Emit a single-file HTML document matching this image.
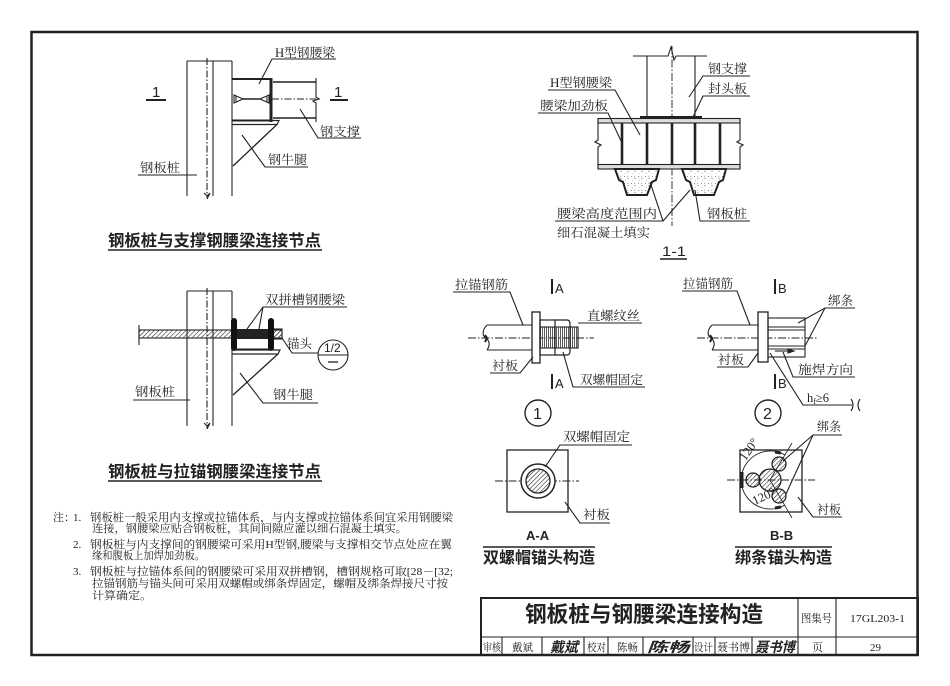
<!DOCTYPE html>
<html><head><meta charset="utf-8">
<style>
html,body{margin:0;padding:0;background:#fff;}
svg{display:block;}
.lb{font-family:"Liberation Serif","Noto Serif CJK SC",serif;font-size:12.5px;fill:#222;}
.tt{font-family:"Liberation Sans","Noto Sans CJK SC",sans-serif;font-weight:bold;fill:#222;}
.nt{font-family:"Liberation Serif","Noto Serif CJK SC",serif;font-size:11px;fill:#222;}
.sn{font-family:"Liberation Sans","Noto Sans CJK SC",sans-serif;fill:#222;}
</style></head>
<body>
<svg width="950" height="686" viewBox="0 0 950 686" xmlns="http://www.w3.org/2000/svg">
<defs>
<pattern id="h" patternUnits="userSpaceOnUse" width="3.2" height="3.2" patternTransform="rotate(45)"><line x1="0" y1="0" x2="0" y2="3.2" stroke="#222" stroke-width="1.1"/></pattern>
<pattern id="v" patternUnits="userSpaceOnUse" width="2" height="4"><line x1="0.5" y1="0" x2="0.5" y2="4" stroke="#333" stroke-width="0.8"/></pattern>
<pattern id="c" patternUnits="userSpaceOnUse" width="7" height="7"><circle cx="1.5" cy="1.5" r="0.5" fill="#666"/><circle cx="5" cy="3.5" r="0.6" fill="#777"/><circle cx="2.5" cy="5.5" r="0.4" fill="#888"/><path d="M4.5 0.5 l1 1.2 h-1.6z" fill="#999"/></pattern>
</defs>
<rect width="950" height="686" fill="#fff"/>
<!-- border -->
<rect x="31.5" y="32" width="886" height="623" fill="none" stroke="#222" stroke-width="2.5"/>

<g stroke="#222" fill="none" stroke-width="1.1">
<!-- ===== Drawing 1 ===== -->
<line x1="187" y1="61" x2="187" y2="196"/>
<line x1="213" y1="61" x2="213" y2="196"/>
<line x1="232" y1="61" x2="232" y2="196"/>
<line x1="187" y1="61" x2="232" y2="61"/>
<line x1="207" y1="58" x2="207" y2="198" stroke-dasharray="7 2 1.5 2"/>
<path d="M204 193 L207 196 L210 193 L207 199"/>
<!-- H box -->
<line x1="232" y1="79" x2="272" y2="79" stroke-width="2"/>
<line x1="232" y1="120.5" x2="272" y2="120.5" stroke-width="2"/>
<line x1="271" y1="78" x2="271" y2="122" stroke-width="3"/>
<path d="M234 95 L243 99 L234 103 Z M236 96 L236 102"/>
<path d="M269 95 L260 99 L269 103 Z M267 96 L267 102"/>
<line x1="243" y1="99" x2="260" y2="99" stroke-width="1.5"/>
<line x1="272" y1="99" x2="322" y2="99" stroke-dasharray="7 2 1.5 2"/>
<!-- brace -->
<line x1="273" y1="82" x2="316" y2="82" stroke-width="1.4"/>
<line x1="273" y1="118" x2="316" y2="118" stroke-width="1.4"/>
<path d="M316 78 L316 97 L319 99 L313 101 L316 103 L316 122"/>
<!-- bracket -->
<path d="M232 120.5 L279 120.5 L277 124.5 L232 124.5" stroke-width="1.2"/>
<line x1="277" y1="124.5" x2="233" y2="166" stroke-width="1.3"/>
<!-- section marks -->
<line x1="146" y1="100" x2="166" y2="100" stroke-width="2"/>
<line x1="330" y1="100" x2="348" y2="100" stroke-width="2"/>
<!-- leaders -->
<polyline points="259,84 272,59 336,59"/>
<polyline points="300,109 318,138 361,138"/>
<polyline points="242,135 265,167 308,167"/>
<line x1="138" y1="175" x2="197" y2="175"/>
<line x1="108" y1="250" x2="322" y2="250" stroke-width="1.6"/>

<!-- ===== Drawing 2 ===== -->
<line x1="187" y1="291" x2="187" y2="426"/>
<line x1="213" y1="291" x2="213" y2="426"/>
<line x1="232" y1="291" x2="232" y2="426"/>
<line x1="187" y1="291" x2="232" y2="291"/>
<line x1="207" y1="288" x2="207" y2="428" stroke-dasharray="7 2 1.5 2"/>
<path d="M204 423 L207 426 L210 423 L207 429"/>
<rect x="139" y="330" width="143" height="8" fill="url(#h)"/>
<rect x="236" y="329" width="34" height="10" fill="#222" stroke="none"/>
<rect x="273" y="329" width="9" height="10" fill="url(#h)"/>
<line x1="139" y1="325" x2="139" y2="345"/>
<rect x="231" y="318" width="6" height="33" rx="3" fill="#111" stroke="none"/>
<rect x="268" y="318" width="6" height="33" rx="3" fill="#111" stroke="none"/>
<line x1="236" y1="349" x2="270" y2="349"/>
<path d="M232 350 L280 350 L278 354 L232 354" stroke-width="1.2"/>
<line x1="278" y1="354" x2="233" y2="395" stroke-width="1.3"/>
<!-- leaders -->
<polyline points="247,329 263,307 347,307"/>
<line x1="263" y1="307" x2="259" y2="329"/>
<polyline points="282,338 292,353 318,353"/>
<circle cx="333" cy="355" r="15"/>
<line x1="318" y1="355" x2="348" y2="355"/>
<line x1="328" y1="362" x2="338" y2="362" stroke-width="1.3"/>
<line x1="133" y1="400" x2="190" y2="400"/>
<polyline points="240,373 263,403 318,403"/>
<line x1="108" y1="481" x2="322" y2="481" stroke-width="1.6"/>

<!-- ===== 1-1 section ===== -->
<line x1="647" y1="56" x2="647" y2="118"/>
<line x1="695" y1="56" x2="695" y2="118"/>
<path d="M633 56 L668 56 L671 47 L674 60 L676 56 L707 56"/>
<line x1="672" y1="46" x2="672" y2="226" stroke-dasharray="8 2 1.5 2" stroke-width="0.9"/>
<line x1="640" y1="117.5" x2="702" y2="117.5" stroke-width="3"/>
<rect x="598" y="118.5" width="142" height="4.5" fill="#ddd"/>
<rect x="598" y="164.5" width="142" height="4.5" fill="#ddd"/>
<path d="M598 118 L598 140 L595 142 L601 145 L598 147 L598 169"/>
<path d="M740 118 L740 140 L737 142 L743 145 L740 147 L740 169"/>
<g stroke-width="2.6">
<line x1="622" y1="123" x2="622" y2="164"/>
<line x1="647" y1="123" x2="647" y2="164"/>
<line x1="672" y1="123" x2="672" y2="164"/>
<line x1="695" y1="123" x2="695" y2="164"/>
<line x1="720" y1="123" x2="720" y2="164"/>
</g>
<path d="M615 169 L619 180 L623 182 L627 195 L647 195 L652 182 L656 180 L659 169 Z" fill="url(#c)" stroke-width="2"/>
<path d="M682 169 L686 180 L690 182 L694 195 L714 195 L719 182 L723 180 L726 169 Z" fill="url(#c)" stroke-width="2"/>
<polyline points="689,97 703,76 750,76"/>
<polyline points="693,117 703,96 750,96"/>
<polyline points="640,135 615,90 548,90"/>
<polyline points="622,143 608,113 538,113"/>
<polyline points="650,182 663,221 555,221"/>
<line x1="663" y1="221" x2="690" y2="190"/>
<polyline points="695,190 700,221 750,221"/>
<line x1="660" y1="259" x2="687" y2="259" stroke-width="1.6"/>

<!-- ===== Detail 1 ===== -->
<line x1="487" y1="325" x2="532" y2="325"/>
<line x1="487" y1="350" x2="532" y2="350"/>
<path d="M487 325 C482 330 482 336 486 338 C490 341 490 346 487 350"/>
<path d="M485 335 L487 338 L485 342" stroke-width="2"/>
<line x1="468" y1="338" x2="594" y2="338" stroke-dasharray="8 2 1.5 2" stroke-width="0.9"/>
<rect x="532" y="312" width="8" height="51" fill="#fff" stroke-width="1.3"/>
<rect x="540" y="327" width="38" height="21" fill="url(#v)"/>
<rect x="540" y="320" width="15" height="35" stroke-width="1.2"/>
<path d="M555 320 L567 320 Q570 320 570 324 L570 351 Q570 355 567 355 L555 355" stroke-width="1.2"/>
<line x1="578" y1="327" x2="578" y2="348"/>
<polyline points="523,325 510,292 453,292"/>
<line x1="578" y1="323" x2="642" y2="323"/>
<polyline points="533,357 520,373 490,373"/>
<polyline points="563,352 573,387 645,387"/>
<line x1="552" y1="279" x2="552" y2="294" stroke-width="2"/>
<line x1="552" y1="374" x2="552" y2="389" stroke-width="2"/>
<circle cx="538" cy="413" r="13" stroke-width="1.4"/>

<!-- ===== Detail 2 ===== -->
<line x1="712" y1="325" x2="758" y2="325"/>
<line x1="712" y1="350" x2="758" y2="350"/>
<path d="M712 325 C707 330 707 336 711 338 C715 341 715 346 712 350"/>
<path d="M710 335 L712 338 L710 342" stroke-width="2"/>
<line x1="697" y1="338" x2="817" y2="338" stroke-dasharray="8 2 1.5 2" stroke-width="0.9"/>
<rect x="758" y="312" width="10" height="50" fill="#fff" stroke-width="1.3"/>
<rect x="768" y="318" width="37" height="39"/>
<line x1="768" y1="327" x2="805" y2="327"/>
<line x1="768" y1="330" x2="805" y2="330"/>
<line x1="768" y1="346" x2="805" y2="346"/>
<line x1="768" y1="349" x2="805" y2="349"/>
<line x1="775" y1="351" x2="789" y2="351"/>
<path d="M788 349 L794 351 L788 353 Z" fill="#222"/>
<polyline points="750,325 737,291 682,291"/>
<polyline points="798,323 825,308 855,308"/>
<line x1="825" y1="308" x2="805" y2="346"/>
<polyline points="758,353 748,367 717,367"/>
<polyline points="783,352 793,377 855,377"/>
<polyline points="770,353 803,405 852,405"/>
<path d="M851 399 Q855 405 851 411 M860 399 Q856 405 860 411"/>
<line x1="775" y1="279" x2="775" y2="294" stroke-width="2"/>
<line x1="775" y1="374" x2="775" y2="389" stroke-width="2"/>
<circle cx="768" cy="413" r="13" stroke-width="1.4"/>

<!-- ===== A-A ===== -->
<rect x="507" y="450" width="61" height="62" stroke-width="1.3"/>
<line x1="495" y1="481" x2="579" y2="481" stroke-dasharray="8 2 1.5 2" stroke-width="0.9"/>
<circle cx="538" cy="481" r="17" fill="#fff" stroke-width="1.5"/>
<circle cx="538" cy="481" r="12" fill="url(#h)" stroke-width="1.3"/>
<polyline points="545,467 560,445 632,445"/>
<polyline points="565,502 580,523 610,523"/>
<line x1="483" y1="547" x2="595" y2="547" stroke-width="1.6"/>

<!-- ===== B-B ===== -->
<rect x="740" y="450" width="62" height="62" stroke-width="1.3"/>
<line x1="727" y1="480" x2="815" y2="480" stroke-dasharray="8 2 1.5 2" stroke-width="0.9"/>
<path d="M785 455 A29 29 0 1 0 785 505" stroke-width="0.9"/>
<line x1="792" y1="443" x2="770" y2="480" stroke-width="0.8"/>
<line x1="770" y1="480" x2="792" y2="518" stroke-width="0.8"/>
<circle cx="770" cy="480" r="11" fill="url(#h)" stroke-width="1.3"/>
<circle cx="753" cy="480" r="7" fill="url(#h)" stroke-width="1.3"/>
<circle cx="779" cy="464" r="7" fill="url(#h)" stroke-width="1.3"/>
<circle cx="779" cy="496" r="7" fill="url(#h)" stroke-width="1.3"/>
<path d="M775 452 L781 453" stroke-width="3"/>
<path d="M775 508 L781 507" stroke-width="3"/>
<path d="M742 472 L742 488" stroke-width="3"/>
<polyline points="783,461 813,435 842,435"/>
<line x1="813" y1="435" x2="786" y2="494"/>
<polyline points="798,497 813,517 842,517"/>
<line x1="735" y1="547" x2="832" y2="547" stroke-width="1.6"/>

<!-- ===== title block ===== -->
<rect x="481" y="598" width="437" height="57" stroke-width="2"/>
<line x1="481" y1="637" x2="918" y2="637"/>
<line x1="798" y1="598" x2="798" y2="655"/>
<line x1="836" y1="598" x2="836" y2="655"/>
<line x1="502" y1="637" x2="502" y2="655"/>
<line x1="542" y1="637" x2="542" y2="655"/>
<line x1="584" y1="637" x2="584" y2="655"/>
<line x1="608" y1="637" x2="608" y2="655"/>
<line x1="643" y1="637" x2="643" y2="655"/>
<line x1="693" y1="637" x2="693" y2="655"/>
<line x1="715" y1="637" x2="715" y2="655"/>
<line x1="752" y1="637" x2="752" y2="655"/>
</g>

<!-- ===== Text ===== -->
<!-- drawing 1 -->
<text class="lb" x="275" y="57" textLength="60" lengthAdjust="spacingAndGlyphs">H型钢腰梁</text>
<text class="lb" x="320" y="136" textLength="40" lengthAdjust="spacingAndGlyphs">钢支撑</text>
<text class="lb" x="268" y="164" textLength="39" lengthAdjust="spacingAndGlyphs">钢牛腿</text>
<text class="lb" x="140" y="172" textLength="40" lengthAdjust="spacingAndGlyphs">钢板桩</text>
<text class="sn" x="152" y="97" font-size="15">1</text>
<text class="sn" x="334" y="97" font-size="15">1</text>
<text class="tt" x="108" y="246" font-size="16" textLength="213" lengthAdjust="spacingAndGlyphs">钢板桩与支撑钢腰梁连接节点</text>
<!-- drawing 2 -->
<text class="lb" x="265" y="304" textLength="80" lengthAdjust="spacingAndGlyphs">双拼槽钢腰梁</text>
<text class="lb" x="287" y="348" textLength="25" lengthAdjust="spacingAndGlyphs">锚头</text>
<text class="sn" x="324" y="352" font-size="12">1/2</text>
<text class="lb" x="135" y="396" textLength="40" lengthAdjust="spacingAndGlyphs">钢板桩</text>
<text class="lb" x="273" y="399" textLength="40" lengthAdjust="spacingAndGlyphs">钢牛腿</text>
<text class="tt" x="108" y="477" font-size="16" textLength="213" lengthAdjust="spacingAndGlyphs">钢板桩与拉锚钢腰梁连接节点</text>
<!-- 1-1 -->
<text class="lb" x="708" y="73" textLength="39" lengthAdjust="spacingAndGlyphs">钢支撑</text>
<text class="lb" x="708" y="93" textLength="39" lengthAdjust="spacingAndGlyphs">封头板</text>
<text class="lb" x="550" y="87" textLength="62" lengthAdjust="spacingAndGlyphs">H型钢腰梁</text>
<text class="lb" x="540" y="110" textLength="68" lengthAdjust="spacingAndGlyphs">腰梁加劲板</text>
<text class="lb" x="557" y="218" textLength="100" lengthAdjust="spacingAndGlyphs">腰梁高度范围内</text>
<text class="lb" x="557" y="237" textLength="93" lengthAdjust="spacingAndGlyphs">细石混凝土填实</text>
<text class="lb" x="707" y="218" textLength="40" lengthAdjust="spacingAndGlyphs">钢板桩</text>
<text class="sn" x="662" y="256" font-size="14" textLength="24" lengthAdjust="spacingAndGlyphs">1-1</text>
<!-- detail 1 -->
<text class="lb" x="455" y="289" textLength="53" lengthAdjust="spacingAndGlyphs">拉锚钢筋</text>
<text class="sn" x="555" y="293" font-size="13">A</text>
<text class="lb" x="587" y="320" textLength="53" lengthAdjust="spacingAndGlyphs">直螺纹丝</text>
<text class="lb" x="492" y="370" textLength="26" lengthAdjust="spacingAndGlyphs">衬板</text>
<text class="sn" x="555" y="388" font-size="13">A</text>
<text class="lb" x="580" y="384" textLength="63" lengthAdjust="spacingAndGlyphs">双螺帽固定</text>
<text class="sn" x="533" y="419" font-size="16">1</text>
<!-- detail 2 -->
<text class="lb" x="683" y="288" textLength="50" lengthAdjust="spacingAndGlyphs">拉锚钢筋</text>
<text class="sn" x="778" y="293" font-size="13">B</text>
<text class="lb" x="828" y="305" textLength="25" lengthAdjust="spacingAndGlyphs">绑条</text>
<text class="lb" x="718" y="364" textLength="26" lengthAdjust="spacingAndGlyphs">衬板</text>
<text class="lb" x="798" y="374" textLength="55" lengthAdjust="spacingAndGlyphs">施焊方向</text>
<text class="sn" x="778" y="388" font-size="13">B</text>
<text class="lb" x="807" y="402">h<tspan font-size="8" dy="2">f</tspan><tspan dy="-2">≥6</tspan></text>
<text class="sn" x="763" y="419" font-size="16">2</text>
<!-- A-A -->
<text class="lb" x="563" y="441" textLength="67" lengthAdjust="spacingAndGlyphs">双螺帽固定</text>
<text class="lb" x="583" y="519" textLength="27" lengthAdjust="spacingAndGlyphs">衬板</text>
<text class="sn" x="526" y="540" font-size="13" font-weight="bold">A-A</text>
<text class="tt" x="483" y="563" font-size="16" textLength="112" lengthAdjust="spacingAndGlyphs">双螺帽锚头构造</text>
<!-- B-B -->
<text class="lb" x="817" y="431" textLength="24" lengthAdjust="spacingAndGlyphs">绑条</text>
<text class="lb" x="817" y="514" textLength="24" lengthAdjust="spacingAndGlyphs">衬板</text>
<text class="lb" x="740" y="459" font-size="10" transform="rotate(-55 745 455)">120°</text>
<text class="lb" x="752" y="503" font-size="10" transform="rotate(-25 758 498)">120°</text>
<text class="sn" x="770" y="540" font-size="13" font-weight="bold">B-B</text>
<text class="tt" x="735" y="563" font-size="16" textLength="97" lengthAdjust="spacingAndGlyphs">绑条锚头构造</text>
<!-- notes -->
<text class="nt" x="53" y="521">注：</text>
<text class="nt" x="73" y="521">1.</text>
<text class="nt" x="90" y="521" textLength="363" lengthAdjust="spacingAndGlyphs">钢板桩一般采用内支撑或拉锚体系，与内支撑或拉锚体系间宜采用钢腰梁</text>
<text class="nt" x="92" y="532" textLength="315" lengthAdjust="spacingAndGlyphs">连接，钢腰梁应贴合钢板桩，其间间隙应灌以细石混凝土填实。</text>
<text class="nt" x="73" y="548">2.</text>
<text class="nt" x="90" y="548" textLength="362" lengthAdjust="spacingAndGlyphs">钢板桩与内支撑间的钢腰梁可采用H型钢,腰梁与支撑相交节点处应在翼</text>
<text class="nt" x="92" y="559" textLength="113" lengthAdjust="spacingAndGlyphs">缘和腹板上加焊加劲板。</text>
<text class="nt" x="73" y="575">3.</text>
<text class="nt" x="90" y="575" textLength="363" lengthAdjust="spacingAndGlyphs">钢板桩与拉锚体系间的钢腰梁可采用双拼槽钢，槽钢规格可取[28－[32;</text>
<text class="nt" x="92" y="587" textLength="356" lengthAdjust="spacingAndGlyphs">拉锚钢筋与锚头间可采用双螺帽或绑条焊固定，螺帽及绑条焊接尺寸按</text>
<text class="nt" x="92" y="599" textLength="60" lengthAdjust="spacingAndGlyphs">计算确定。</text>
<!-- title block -->
<text class="sn" x="525" y="622" font-size="22" font-weight="bold" textLength="238" lengthAdjust="spacingAndGlyphs">钢板桩与钢腰梁连接构造</text>
<text class="nt" x="801" y="622" textLength="31" lengthAdjust="spacingAndGlyphs">图集号</text>
<text class="nt" x="850" y="622" font-size="13" textLength="55" lengthAdjust="spacingAndGlyphs">17GL203-1</text>
<text class="nt" x="483" y="651" textLength="18" lengthAdjust="spacingAndGlyphs">审核</text>
<text class="nt" x="512" y="651" textLength="21" lengthAdjust="spacingAndGlyphs">戴斌</text>
<text class="sn" x="550" y="652" font-size="14" font-weight="bold" font-style="italic" textLength="28" lengthAdjust="spacingAndGlyphs">戴斌</text>
<text class="nt" x="587" y="651" textLength="19" lengthAdjust="spacingAndGlyphs">校对</text>
<text class="nt" x="617" y="651" textLength="21" lengthAdjust="spacingAndGlyphs">陈畅</text>
<text class="sn" x="647" y="652" font-size="14" font-weight="bold" font-style="italic" textLength="42" lengthAdjust="spacingAndGlyphs">陈畅</text>
<text class="nt" x="694" y="651" textLength="19" lengthAdjust="spacingAndGlyphs">设计</text>
<text class="nt" x="717" y="651" textLength="33" lengthAdjust="spacingAndGlyphs">聂书博</text>
<text class="sn" x="755" y="652" font-size="14" font-weight="bold" font-style="italic" textLength="40" lengthAdjust="spacingAndGlyphs">聂书博</text>
<text class="nt" x="812" y="651">页</text>
<text class="nt" x="870" y="651" font-size="12">29</text>
</svg>
</body></html>
